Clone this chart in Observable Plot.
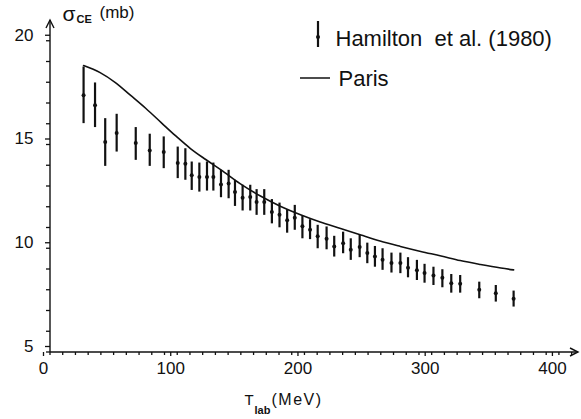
<!DOCTYPE html>
<html>
<head>
<meta charset="utf-8">
<script src="https://cdn.jsdelivr.net/npm/d3@7"></script>
<script src="https://cdn.jsdelivr.net/npm/@observablehq/plot@0.6"></script>
<style>
  html, body { margin: 0; padding: 0; background: #fff; }
  #chart { width: 581px; height: 419px; overflow: hidden; }
  #chart svg { display: block; font-family: "Liberation Sans", Arial, sans-serif; color: #111; }
</style>
</head>
<body>
<div id="chart"></div>
<script>
// Hamilton et al. (1980) data: lab energy (MeV), central value, lower and upper error-bar ends (mb)
const energy = [26, 35, 43, 52, 67, 78, 89, 100, 106, 111, 117, 123, 128, 134, 140, 145, 151, 157, 162, 168, 174, 180, 186, 192, 198, 204, 210, 217, 223, 230, 236, 243, 249, 255, 261, 268, 275, 281, 288, 294, 301, 308, 315, 322, 337, 350, 364];
const sigma  = [17.40, 16.91, 15.15, 15.58, 15.10, 14.74, 14.66, 14.13, 14.10, 13.54, 13.46, 13.46, 13.46, 13.10, 13.14, 12.73, 12.46, 12.49, 12.25, 12.25, 11.77, 11.64, 11.37, 11.50, 11.08, 10.92, 10.60, 10.48, 10.11, 10.27, 9.95, 10.08, 9.79, 9.63, 9.47, 9.31, 9.31, 9.09, 8.96, 8.83, 8.71, 8.60, 8.34, 8.31, 8.02, 7.86, 7.59];
const sigmaLo = [16.03, 15.84, 13.97, 14.66, 14.26, 13.97, 13.86, 13.38, 13.30, 12.81, 12.73, 12.78, 12.78, 12.46, 12.41, 12.04, 11.82, 11.82, 11.61, 11.61, 11.20, 11.01, 10.75, 10.89, 10.48, 10.44, 10.00, 9.95, 9.60, 9.76, 9.44, 9.57, 9.28, 9.11, 8.96, 8.83, 8.80, 8.60, 8.47, 8.34, 8.23, 8.12, 7.86, 7.86, 7.59, 7.43, 7.19];
const sigmaHi = [18.76, 17.99, 16.27, 16.48, 15.84, 15.52, 15.39, 14.90, 14.82, 14.18, 14.13, 14.18, 14.13, 13.78, 13.78, 13.30, 13.06, 13.06, 12.85, 12.85, 12.37, 12.20, 11.88, 12.09, 11.56, 11.40, 11.13, 11.05, 10.60, 10.80, 10.48, 10.64, 10.27, 10.11, 10.00, 9.79, 9.79, 9.57, 9.44, 9.25, 9.11, 8.99, 8.76, 8.71, 8.39, 8.23, 7.96];

// Paris potential curve
const parisE = [26, 39, 51, 63, 75, 87, 98, 110, 122, 134, 149, 165, 181, 197, 212, 228, 244, 259, 275, 291, 307, 322, 338, 354, 364];
const parisS = [18.83, 18.49, 18.01, 17.39, 16.76, 16.08, 15.46, 14.83, 14.30, 13.80, 13.14, 12.54, 12.04, 11.63, 11.29, 10.98, 10.66, 10.37, 10.11, 9.87, 9.65, 9.43, 9.24, 9.07, 8.98];

// axes and labels
const xDomain = [0, 415];
const yDomain = [5, 21.0];
const xMajor = [0, 100, 200, 300, 400];
const xMinor = d3.range(0, 411, 10);
const yMajor = [5, 10, 15, 20];
const yMinor = d3.range(5, 21, 1);
const legendLabels = ["Hamilton  et al. (1980)", "Paris"];

const hamilton = energy.map((e, i) => ({e, s: sigma[i], lo: sigmaLo[i], hi: sigmaHi[i]}));
const paris = parisE.map((e, i) => ({e, s: parisS[i]}));

const ink = "#111";
const label = (t, opts) => Plot.text([t], {text: d => d, fill: ink, textAnchor: "start", lineAnchor: "middle", ...opts});

const chart = Plot.plot({
  width: 581,
  height: 419,
  marginLeft: 50,
  marginRight: 3,
  marginTop: 20,
  marginBottom: 67,
  x: {domain: xDomain, label: null},
  y: {domain: yDomain, label: null},
  marks: [
    Plot.axisX({ticks: xMajor, tickSize: 4, tickPadding: 5, fontSize: 17, dx: -7, stroke: ink, fill: ink, strokeWidth: 1.3, label: null}),
    Plot.axisY({ticks: yMajor, tickSize: 5, tickPadding: 12, fontSize: 17, dy: -6, stroke: ink, fill: ink, strokeWidth: 1.3, label: null}),
    Plot.line(paris, {x: "e", y: "s", curve: "monotone-x", stroke: ink, strokeWidth: 1.6}),
    Plot.ruleX(hamilton, {x: "e", y1: "lo", y2: "hi", stroke: ink, strokeWidth: 2.2}),
    Plot.dot(hamilton, {x: "e", y: "s", r: 2, fill: ink}),
    // y-axis title: σ_CE (mb)
    label("σ", {frameAnchor: "top-left", dx: 12, dy: -6, fontSize: 21}),
    label("CE", {frameAnchor: "top-left", dx: 26, dy: -1, fontSize: 11, fontWeight: "bold"}),
    label("(mb)", {frameAnchor: "top-left", dx: 49, dy: -8, fontSize: 17}),
    // x-axis title: T_lab (MeV)
    label("T", {frameAnchor: "bottom-left", dx: 194, dy: 48, fontSize: 15}),
    label("lab", {frameAnchor: "bottom-left", dx: 204, dy: 58, fontSize: 11, fontWeight: "bold"}),
    label("(MeV)", {frameAnchor: "bottom-left", dx: 221, dy: 47, fontSize: 16}),
    // legend
    label(legendLabels[0], {frameAnchor: "top-left", dx: 285, dy: 18, fontSize: 22}),
    label(legendLabels[1], {frameAnchor: "top-left", dx: 288, dy: 58, fontSize: 22})
  ]
});

// axis lines, arrowheads and minor ticks, positioned with the plot's own scales
const xs = chart.scale("x"), ys = chart.scale("y");
const X = v => xs.apply(v), Y = v => ys.apply(v);
const x0 = X(xDomain[0]), x1 = X(xDomain[1]);
const y0 = Y(yDomain[0]), y1 = Y(yDomain[1]);
const svg = d3.select(chart);
const ax = svg.append("g").attr("stroke", ink).attr("fill", "none").attr("stroke-width", 1.4);
ax.append("line").attr("x1", x0).attr("x2", x1).attr("y1", y0).attr("y2", y0);
ax.append("line").attr("x1", x0).attr("x2", x0).attr("y1", y0).attr("y2", y1);
ax.append("path").attr("d", `M${x1 - 8},${y0 - 4}L${x1},${y0}L${x1 - 8},${y0 + 4}`);
ax.append("path").attr("d", `M${x0 - 4},${y1 + 8}L${x0},${y1}L${x0 + 4},${y1 + 8}`);
xMinor.forEach(v => ax.append("line").attr("x1", X(v)).attr("x2", X(v)).attr("y1", y0).attr("y2", y0 + 3).attr("stroke-width", 1.3));
yMinor.forEach(v => ax.append("line").attr("x1", x0 - 4).attr("x2", x0).attr("y1", Y(v)).attr("y2", Y(v)).attr("stroke-width", 1.3));

// legend symbols (error bar and line sample)
const g = svg.append("g").attr("stroke", ink).attr("fill", ink);
g.append("line").attr("x1", 318).attr("x2", 318).attr("y1", 21).attr("y2", 47).attr("stroke-width", 2.2);
g.append("circle").attr("cx", 318).attr("cy", 37).attr("r", 2).attr("stroke", "none");
g.append("line").attr("x1", 300).attr("x2", 330).attr("y1", 78).attr("y2", 78).attr("stroke-width", 1.5);
svg.selectAll("text").filter(function() { return this.textContent === "(MeV)"; }).attr("letter-spacing", 1.5);

document.getElementById("chart").appendChild(chart);
</script>
</body>
</html>
